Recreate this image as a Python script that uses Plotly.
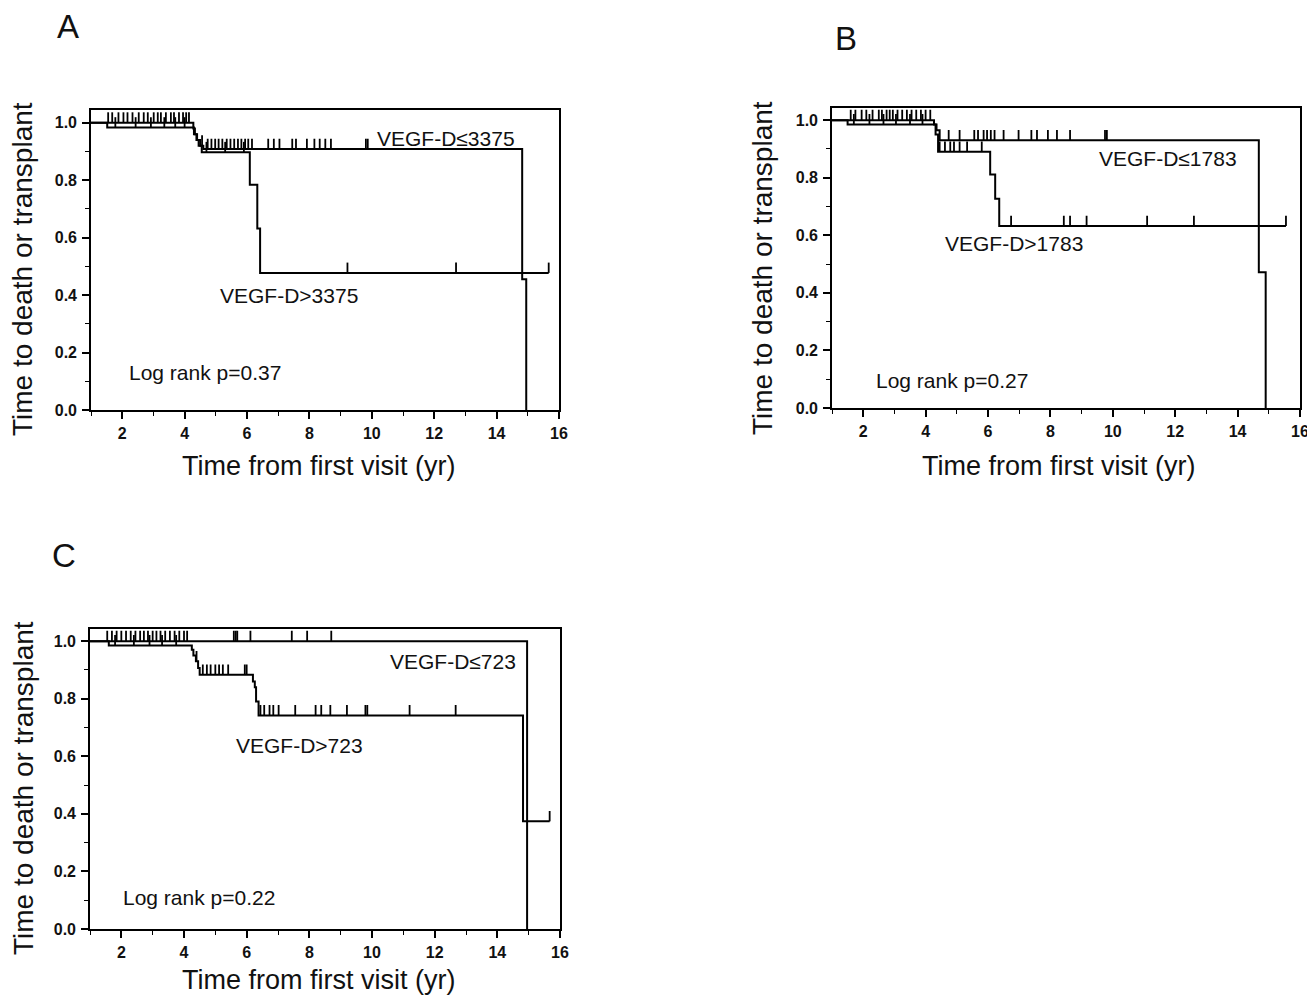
import numpy as np
import plotly.graph_objects as go

# ---------------- data ----------------
# Panel A
a_low_t = [1.0, 4.28, 4.33, 4.40, 4.50, 4.60, 14.82, 14.95]
a_low_s = [1.0, 0.980, 0.960, 0.940, 0.920, 0.908, 0.455, 0.0]
a_low_cens = [1.55, 1.68, 1.88, 2.04, 2.17, 2.33, 2.53, 2.69, 2.82, 3.01, 3.14, 3.24, 3.40,
              3.56, 3.66, 3.82, 3.95, 4.05, 4.14, 4.56, 4.74, 4.86, 4.98, 5.09, 5.21, 5.35,
              5.47, 5.59, 5.71, 5.82, 5.94, 6.04, 6.16, 6.68, 6.86, 7.04, 7.45, 7.57, 7.92,
              8.16, 8.33, 8.51, 8.69, 9.81, 9.87]
a_high_t = [1.0, 1.52, 4.30, 4.38, 4.45, 4.55, 6.09, 6.33, 6.42, 15.67]
a_high_s = [1.0, 0.983, 0.960, 0.940, 0.920, 0.897, 0.784, 0.632, 0.477, 0.477]
a_high_cens = [1.78, 2.43, 2.92, 3.35, 3.70, 4.00, 4.70, 5.30, 5.90, 9.22, 12.70, 15.67]

# Panel B
b_low_t = [1.0, 4.27, 4.35, 4.45, 14.68, 14.90]
b_low_s = [1.0, 0.985, 0.965, 0.930, 0.472, 0.0]
b_low_cens = [1.60, 1.75, 1.95, 2.10, 2.30, 2.50, 2.60, 2.75, 2.85, 2.95, 3.10, 3.25, 3.40,
              3.55, 3.70, 3.85, 4.00, 4.15, 4.74, 5.09, 5.56, 5.68, 5.86, 5.97, 6.09, 6.21,
              6.50, 6.98, 7.39, 7.57, 7.92, 8.21, 8.63, 9.75, 9.81]
b_high_t = [1.0, 1.50, 4.32, 4.40, 6.07, 6.23, 6.36, 15.55]
b_high_s = [1.0, 0.985, 0.950, 0.890, 0.811, 0.727, 0.632, 0.632]
b_high_cens = [1.70, 2.20, 2.65, 3.05, 3.50, 3.90, 4.45, 4.62, 4.79, 4.91, 5.09, 5.33, 5.80,
               6.74, 8.43, 8.63, 9.16, 11.10, 12.60, 15.55]

# Panel C
c_low_t = [1.0, 14.95]
c_low_s = [1.0, 0.0]
c_low_cens = [1.55, 1.70, 1.85, 2.00, 2.15, 2.30, 2.45, 2.60, 2.72, 2.85, 3.00, 3.12, 3.25,
              3.40, 3.55, 3.70, 3.85, 4.00, 4.10, 5.59, 5.65, 5.70, 6.12, 7.44, 7.93, 8.70]
c_high_t = [1.0, 1.60, 4.25, 4.30, 4.38, 4.45, 4.50, 6.20, 6.26, 6.30, 6.38, 14.82, 15.67]
c_high_s = [1.0, 0.985, 0.970, 0.950, 0.930, 0.907, 0.883, 0.860, 0.840, 0.790, 0.742, 0.374, 0.374]
c_high_cens = [1.80, 2.40, 2.90, 3.30, 3.75, 4.40, 4.60, 4.73, 4.85, 5.00, 5.12, 5.24, 5.41,
               5.94, 6.00, 6.44, 6.56, 6.73, 6.85, 7.02, 7.55, 8.20, 8.38, 8.67, 9.20, 9.79,
               9.85, 11.20, 12.67, 15.67]

panels = [
    dict(letter="A", low=(a_low_t, a_low_s, a_low_cens), high=(a_high_t, a_high_s, a_high_cens),
         low_lab="VEGF-D≤3375", high_lab="VEGF-D>3375", p="Log rank p=0.37",
         low_pos=(12.37, 0.946), high_pos=(7.36, 0.397), p_pos=(4.66, 0.129)),
    dict(letter="B", low=(b_low_t, b_low_s, b_low_cens), high=(b_high_t, b_high_s, b_high_cens),
         low_lab="VEGF-D≤1783", high_lab="VEGF-D>1783", p="Log rank p=0.27",
         low_pos=(11.77, 0.868), high_pos=(6.83, 0.573), p_pos=(4.85, 0.094)),
    dict(letter="C", low=(c_low_t, c_low_s, c_low_cens), high=(c_high_t, c_high_s, c_high_cens),
         low_lab="VEGF-D≤723", high_lab="VEGF-D>723", p="Log rank p=0.22",
         low_pos=(12.59, 0.931), high_pos=(7.70, 0.639), p_pos=(4.48, 0.108)),
]

x_ticks = [2, 4, 6, 8, 10, 12, 14, 16]
y_ticks = [0.0, 0.2, 0.4, 0.6, 0.8, 1.0]
x_title = "Time from first visit (yr)"
y_title = "Time to death or transplant"

# ---------------- layout geometry (page pixels) ----------------
PAGE_W, PAGE_H = 1315, 997
OFF = 8                      # default body margin of the html page
W, H = PAGE_W - OFF, PAGE_H - OFF
boxes = [(91, 559, 110, 410), (832, 1300, 107.5, 408), (90, 560, 628.5, 929)]
letter_px = [(68, 26), (846, 38), (64, 555)]
xtitle_px = [(318, 466), (1058, 466), (318, 980)]
ytitle_px = [(23, 269), (762, 268), (23, 788)]

FONT = "Liberation Sans, Arial, Helvetica, sans-serif"
CENS_H = 0.036

fig = go.Figure()


def level_at(times, surv, t):
    i = int(np.searchsorted(np.asarray(times), t, side="right")) - 1
    return surv[max(i, 0)]


def censor_xy(times, surv, cens):
    xs, ys = [], []
    for t in cens:
        s = level_at(times, surv, t)
        xs += [t, t, None]
        ys += [s, s + CENS_H, None]
    return xs, ys


def px(v):
    return (v - OFF) / W


def py(v):
    return 1 - (v - OFF) / H


for k, p in enumerate(panels):
    ax = "" if k == 0 else str(k + 1)
    xa, ya = "x" + ax, "y" + ax
    for grp in ("low", "high"):
        t, s, c = p[grp]
        fig.add_trace(go.Scatter(x=t, y=s, mode="lines", line=dict(color="black", width=2, shape="hv"),
                                 xaxis=xa, yaxis=ya, showlegend=False, hoverinfo="skip"))
        cx, cy = censor_xy(t, s, c)
        fig.add_trace(go.Scatter(x=cx, y=cy, mode="lines", line=dict(color="black", width=1.8),
                                 xaxis=xa, yaxis=ya, showlegend=False, hoverinfo="skip"))
    for lab, pos in ((p["low_lab"], p["low_pos"]), (p["high_lab"], p["high_pos"]), (p["p"], p["p_pos"])):
        fig.add_annotation(x=pos[0], y=pos[1], xref=xa, yref=ya, text=lab, showarrow=False,
                           font=dict(family=FONT, size=21, color="#111"),
                           xanchor="center", yanchor="middle")
    lx, ly = letter_px[k]
    fig.add_annotation(x=px(lx), y=py(ly), xref="paper", yref="paper", text=p["letter"],
                       showarrow=False, font=dict(family=FONT, size=33, color="#111"),
                       xanchor="center", yanchor="middle")
    tx, ty = xtitle_px[k]
    fig.add_annotation(x=px(tx), y=py(ty), xref="paper", yref="paper", text=x_title,
                       showarrow=False, font=dict(family=FONT, size=27, color="#111"),
                       xanchor="center", yanchor="middle")
    tx, ty = ytitle_px[k]
    fig.add_annotation(x=px(tx), y=py(ty), xref="paper", yref="paper", text=y_title,
                       textangle=-90, showarrow=False,
                       font=dict(family=FONT, size=28, color="#111"),
                       xanchor="center", yanchor="middle")

    x0, x1, y0, y1 = boxes[k]
    common = dict(showline=True, mirror=True, linecolor="black", linewidth=1.6,
                  ticks="outside", tickcolor="black", tickwidth=1.5, ticklen=7,
                  showgrid=False, zeroline=False, automargin=False,
                  tickfont=dict(family=FONT, size=16, color="#111", weight="bold"))
    fig.update_layout(**{
        "xaxis" + ax: dict(common, domain=[px(x0), px(x1)], range=[1, 16],
                           tickvals=x_ticks, ticktext=[str(v) for v in x_ticks],
                           ticklabelstandoff=1,
                           minor=dict(dtick=1, tick0=0, ticks="outside", ticklen=4,
                                      tickcolor="black", tickwidth=1.3),
                           anchor=ya),
        "yaxis" + ax: dict(common, domain=[py(y1), py(y0)], range=[0, 1.044],
                           tickvals=y_ticks, ticktext=[f"{v:.1f}" for v in y_ticks],
                           ticklabelstandoff=2,
                           minor=dict(dtick=0.1, tick0=0, ticks="outside", ticklen=4,
                                      tickcolor="black", tickwidth=1.3),
                           anchor=xa),
    })

fig.update_layout(width=W, height=H, margin=dict(l=0, r=0, t=0, b=0),
                  paper_bgcolor="white", plot_bgcolor="white", showlegend=False)

fig.write_html("out.html")
